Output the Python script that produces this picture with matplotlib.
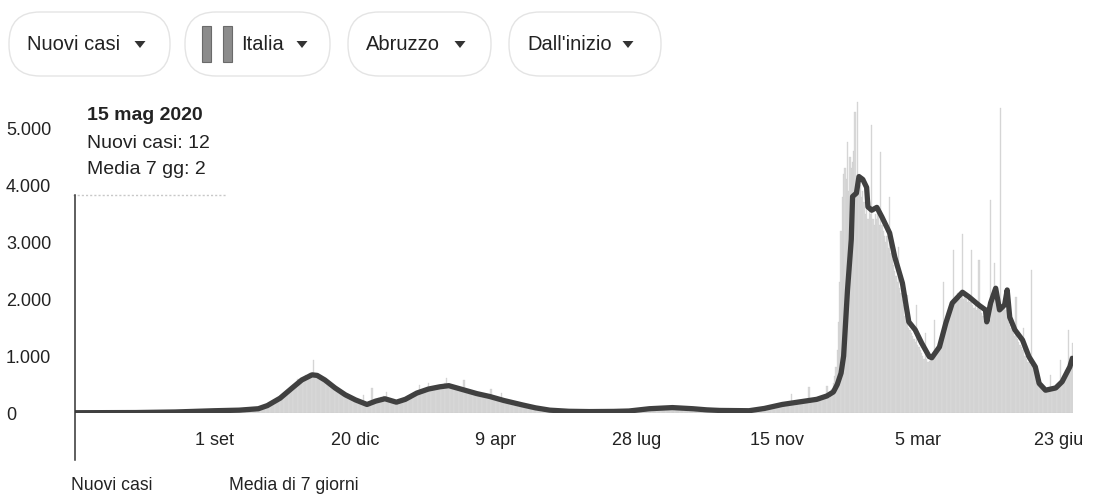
import matplotlib
matplotlib.use("Agg")
import matplotlib.pyplot as plt
import matplotlib.dates as mdates
import matplotlib.transforms as mtransforms
from matplotlib.patches import FancyBboxPatch, Polygon, Rectangle
import pandas as pd

plt.rcParams['font.family'] = ['Liberation Sans', 'DejaVu Sans']

# ---------------- data ----------------
start_date = "2020-05-15"

# daily new cases (one row per week, starting 15 May 2020)
new_cases = [
    12, 8, 5, 10, 6, 4, 7,
    6, 3, 9, 5, 4, 7, 2,
    5, 3, 6, 2, 4, 8, 3,
    4, 2, 5, 3, 1, 6, 4,
    3, 5, 2, 4, 6, 3, 2,
    4, 6, 3, 5, 7, 4, 3,
    5, 7, 4, 8, 6, 5, 7,
    8, 6, 10, 7, 9, 8, 6,
    9, 12, 8, 11, 10, 13, 9,
    12, 10, 14, 11, 13, 15, 10,
    14, 17, 13, 16, 18, 15, 12,
    18, 20, 16, 22, 17, 19, 15,
    22, 25, 19, 24, 21, 26, 20,
    27, 30, 24, 31, 28, 26, 29,
    32, 35, 28, 34, 30, 36, 29,
    38, 42, 33, 40, 36, 41, 35,
    42, 45, 38, 47, 40, 44, 39,
    48, 52, 44, 50, 46, 53, 43,
    50, 55, 46, 52, 48, 54, 45,
    55, 60, 50, 58, 53, 62, 52,
    62, 70, 65, 78, 85, 95, 105,
    110, 125, 118, 140, 150, 165, 178,
    185, 200, 190, 230, 245, 260, 275,
    290, 310, 300, 340, 370, 390, 410,
    430, 460, 440, 490, 520, 540, 600,
    570, 600, 560, 620, 640, 660, 630,
    680, 700, 650, 690, 930, 670, 660,
    650, 640, 600, 620, 590, 570, 560,
    550, 520, 480, 500, 460, 440, 430,
    420, 400, 360, 390, 350, 340, 330,
    320, 300, 280, 300, 270, 260, 250,
    240, 230, 210, 220, 190, 180, 170,
    140, 320, 130, 160, 170, 180, 190,
    200, 440, 230, 250, 220, 240, 260,
    250, 280, 240, 300, 230, 360, 210,
    200, 210, 190, 180, 200, 190, 185,
    200, 210, 230, 250, 240, 260, 270,
    280, 300, 290, 320, 340, 330, 350,
    350, 370, 380, 490, 400, 390, 410,
    410, 420, 400, 530, 440, 450, 430,
    450, 470, 440, 460, 480, 470, 490,
    500, 460, 520, 610, 470, 460, 490,
    480, 460, 450, 440, 430, 460, 420,
    410, 430, 400, 580, 420, 380, 370,
    370, 390, 360, 350, 380, 340, 330,
    330, 320, 310, 300, 320, 290, 300,
    290, 280, 270, 420, 280, 250, 240,
    240, 230, 220, 210, 350, 200, 210,
    200, 190, 180, 170, 190, 160, 170,
    160, 150, 150, 140, 150, 130, 140,
    130, 120, 110, 115, 105, 100, 95,
    90, 85, 80, 75, 70, 72, 65,
    60, 58, 55, 52, 50, 48, 45,
    45, 42, 40, 38, 36, 35, 33,
    32, 30, 28, 31, 27, 29, 26,
    25, 27, 24, 26, 23, 25, 22,
    22, 24, 20, 23, 21, 19, 22,
    20, 22, 18, 21, 19, 23, 20,
    21, 19, 23, 20, 22, 24, 21,
    22, 25, 21, 24, 26, 23, 25,
    26, 28, 24, 29, 27, 30, 28,
    30, 33, 29, 35, 32, 36, 34,
    38, 42, 36, 45, 40, 48, 44,
    50, 55, 48, 60, 58, 63, 61,
    68, 72, 66, 78, 75, 80, 77,
    82, 86, 80, 90, 88, 92, 85,
    92, 96, 90, 100, 95, 98, 94,
    96, 92, 98, 90, 94, 88, 91,
    88, 85, 82, 86, 80, 83, 78,
    76, 74, 72, 75, 70, 68, 66,
    64, 62, 60, 63, 58, 60, 57,
    56, 54, 55, 52, 50, 53, 49,
    48, 46, 47, 44, 45, 43, 44,
    42, 40, 41, 39, 40, 38, 40,
    38, 39, 37, 40, 38, 36, 39,
    40, 42, 39, 44, 46, 48, 50,
    52, 56, 58, 62, 65, 68, 72,
    75, 80, 78, 85, 88, 92, 95,
    100, 105, 110, 108, 115, 120, 125,
    130, 135, 140, 180, 150, 155, 160,
    330, 165, 170, 175, 170, 180, 175,
    180, 185, 190, 195, 190, 200, 195,
    450, 210, 205, 215, 220, 210, 225,
    230, 240, 235, 250, 245, 260, 270,
    480, 300, 260, 350, 420, 520, 650,
    800, 1100, 1600, 2300, 3200, 3800, 4200,
    4300, 4100, 4750, 3900, 4500, 4300, 4400,
    4600, 5280, 3900, 5460, 4200, 4000, 3800,
    3900, 3700, 3500, 3600, 3400, 3700, 3500,
    5050, 3400, 3300, 3500, 3400, 3600, 3300,
    4580, 3300, 3200, 3100, 3000, 3100, 2900,
    3790, 2800, 2700, 2600, 2500, 2400, 2300,
    2910, 2200, 2100, 2000, 1900, 1700, 1600,
    2070, 1500, 1450, 1400, 1350, 1300, 1250,
    1890, 1200, 1150, 1100, 1050, 1000, 950,
    1400, 950, 900, 920, 950, 980, 1000,
    1630, 1050, 1100, 1150, 1200, 1300, 1400,
    2300, 1500, 1600, 1700, 1800, 1850, 1900,
    2000, 2860, 2000, 2050, 2100, 2100, 2000,
    2050, 3150, 2000, 2050, 2000, 1950, 2000,
    1950, 2870, 1900, 1850, 1900, 1800, 1850,
    2690, 1800, 1750, 1700, 1750, 1700, 1600,
    1700, 1800, 3740, 1900, 2000, 2630, 2100,
    1900, 1800, 1850, 5350, 1800, 1900, 1850,
    1800, 2160, 1600, 1550, 1500, 1450, 1400,
    1350, 2040, 1300, 1250, 1200, 1150, 1100,
    1490, 1000, 950, 900, 900, 850, 2510,
    800, 750, 650, 600, 550, 500, 480,
    450, 420, 400, 390, 380, 400, 420,
    670, 420, 430, 450, 460, 480, 500,
    520, 930, 600, 650, 700, 750, 800,
    1460, 900, 1000, 1230,
]

# 7-day average, read at the dates where the curve changes
avg_dates = [
    "2020-05-15", "2020-06-01", "2020-07-01", "2020-08-01", "2020-09-01",
    "2020-09-20", "2020-10-05", "2020-10-12", "2020-10-22", "2020-11-01",
    "2020-11-08", "2020-11-16", "2020-11-20", "2020-11-26", "2020-12-04",
    "2020-12-12", "2020-12-20", "2020-12-29", "2021-01-05", "2021-01-12",
    "2021-01-21", "2021-01-28", "2021-02-06", "2021-02-15", "2021-02-24",
    "2021-03-03", "2021-03-14", "2021-03-25", "2021-04-04", "2021-04-15",
    "2021-04-30", "2021-05-10", "2021-05-21", "2021-06-05", "2021-06-21",
    "2021-07-10", "2021-07-22", "2021-08-07", "2021-08-25", "2021-09-10",
    "2021-09-21", "2021-10-01", "2021-10-24", "2021-11-05", "2021-11-19",
    "2021-12-01", "2021-12-16", "2021-12-24", "2021-12-29", "2022-01-01",
    "2022-01-04", "2022-01-06", "2022-01-09", "2022-01-12", "2022-01-13",
    "2022-01-16", "2022-01-18", "2022-01-21", "2022-01-24", "2022-01-25",
    "2022-01-28", "2022-02-01", "2022-02-05", "2022-02-11", "2022-02-15",
    "2022-02-21", "2022-02-26", "2022-03-03", "2022-03-08", "2022-03-14",
    "2022-03-16", "2022-03-22", "2022-03-27", "2022-04-01", "2022-04-09",
    "2022-04-14", "2022-04-22", "2022-04-27", "2022-04-28", "2022-05-01",
    "2022-05-05", "2022-05-08", "2022-05-12", "2022-05-14", "2022-05-16",
    "2022-05-20", "2022-05-26", "2022-05-31", "2022-06-05", "2022-06-08",
    "2022-06-13", "2022-06-21", "2022-06-26", "2022-07-02", "2022-07-04",
]
avg_values = [
    5, 6, 8, 18, 40,
    50, 75, 130, 260, 450,
    580, 670, 660, 580, 440,
    320, 230, 150, 210, 250,
    190, 240, 350, 420, 460,
    480, 410, 340, 290, 220,
    140, 90, 50, 30, 25,
    28, 35, 75, 95, 75,
    55, 45, 40, 80, 150,
    190, 240, 300, 370, 500,
    700, 1000, 2150, 3050, 3800,
    3860, 4150, 4100, 3960, 3620,
    3560, 3610, 3440, 3160, 2740,
    2280, 1600, 1460, 1230, 990,
    970, 1160, 1580, 1930, 2120,
    2040, 1890, 1810, 1600, 1930,
    2190, 1810, 1900, 2160, 1680,
    1460, 1280, 990, 810, 520,
    400, 440, 550, 810, 960,
]

x_tick_dates = ["2020-09-01", "2020-12-20", "2021-04-09", "2021-07-28",
                "2021-11-15", "2022-03-05", "2022-06-23"]
x_tick_labels = ["1 set", "20 dic", "9 apr", "28 lug", "15 nov", "5 mar", "23 giu"]
y_ticks = [0, 1000, 2000, 3000, 4000, 5000]
y_tick_labels = ["0", "1.000", "2.000", "3.000", "4.000", "5.000"]
tooltip_lines = ["15 mag 2020", "Nuovi casi: 12", "Media 7 gg: 2"]
buttons = ["Nuovi casi", "Italia", "Abruzzo", "Dall'inizio"]
legend_labels = ["Nuovi casi", "Media di 7 giorni"]

# ---------------- figure ----------------
W, H = 1095, 495
fig = plt.figure(figsize=(W / 100, H / 100), dpi=100)
fig.patch.set_facecolor("white")

base_y = 413      # pixel row of value 0
top_y = 94        # pixel row of the axes top
ymax = 5600

ax = fig.add_axes([75 / W, (H - base_y) / H, (1073 - 75) / W, (base_y - top_y) / H])
ax.patch.set_alpha(0)

dates = pd.date_range(start_date, periods=len(new_cases), freq="D")
xnum = mdates.date2num(dates)
ax.bar(xnum, new_cases, width=1.0, color="#dadada", edgecolor="#c9c9c9",
       linewidth=0.2, zorder=1)

avg_x = mdates.date2num(pd.to_datetime(avg_dates))
ax.plot(avg_x, avg_values, color="#404040", lw=3.8, solid_joinstyle="round",
        solid_capstyle="round", zorder=3)

ax.set_xlim(xnum[0] - 0.5, xnum[-1] + 0.5)
ax.set_ylim(0, ymax)
for s in ax.spines.values():
    s.set_visible(False)
ax.set_yticks([])
ax.set_xticks(mdates.date2num(pd.to_datetime(x_tick_dates)))
ax.set_xticklabels(x_tick_labels, fontsize=13, color="#222222")
ax.tick_params(axis="x", length=0, pad=14)

trans = mtransforms.blended_transform_factory(fig.transFigure, ax.transData)
for v, lab in zip(y_ticks, y_tick_labels):
    ax.text(6 / W, v, lab, transform=trans, ha="left", va="center_baseline",
            fontsize=13, color="#222222")

# ---------------- overlay in pixel coordinates ----------------
ov = fig.add_axes([0, 0, 1, 1], zorder=5)
ov.set_xlim(0, W)
ov.set_ylim(H, 0)
ov.axis("off")
ov.patch.set_alpha(0)

# buttons
btn_boxes = [(9, 170), (185, 330), (348, 491), (509, 661)]
btn_text_x = [27, 241, 366, 527]
btn_arrow_x = [140, 302, 460, 628]
btn_top, btn_bot, btn_cy = 12, 76, 44
for (x0, x1), tx, axx, lab in zip(btn_boxes, btn_text_x, btn_arrow_x, buttons):
    ov.add_patch(FancyBboxPatch((x0, btn_top), x1 - x0, btn_bot - btn_top,
                                boxstyle="round,pad=0,rounding_size=31",
                                fc="white", ec="#e4e4e4", lw=1.0))
    ov.text(tx, btn_cy, lab, fontsize=14.5, va="center", ha="left", color="#222222")
    ov.add_patch(Polygon([(axx - 5.5, btn_cy - 3), (axx + 5.5, btn_cy - 3), (axx, btn_cy + 4)],
                         closed=True, fc="#333333", ec="none"))
# Italia icon (two bars)
for bx in (202, 223):
    ov.add_patch(Rectangle((bx, 26), 9, 36, fc="#8c8c8c", ec="#6a6a6a", lw=0.8))

# tooltip
ov.text(87, 115, tooltip_lines[0], fontsize=14, fontweight="bold", va="center",
        ha="left", color="#222222")
ov.text(87, 144, tooltip_lines[1], fontsize=14, va="center", ha="left", color="#222222")
ov.text(87, 170, tooltip_lines[2], fontsize=14, va="center", ha="left", color="#222222")
ov.plot([73, 227], [195, 195], color="#c8c8c8", lw=1, ls=(0, (1.5, 1.5)))
ov.plot([75, 75], [195, 460], color="#333333", lw=1.1)

# legend labels
ov.text(71, 490, legend_labels[0], fontsize=12.7, va="baseline", ha="left", color="#222222")
ov.text(229, 490, legend_labels[1], fontsize=12.7, va="baseline", ha="left", color="#222222")

fig.savefig("out.png", dpi=100, facecolor="white")
